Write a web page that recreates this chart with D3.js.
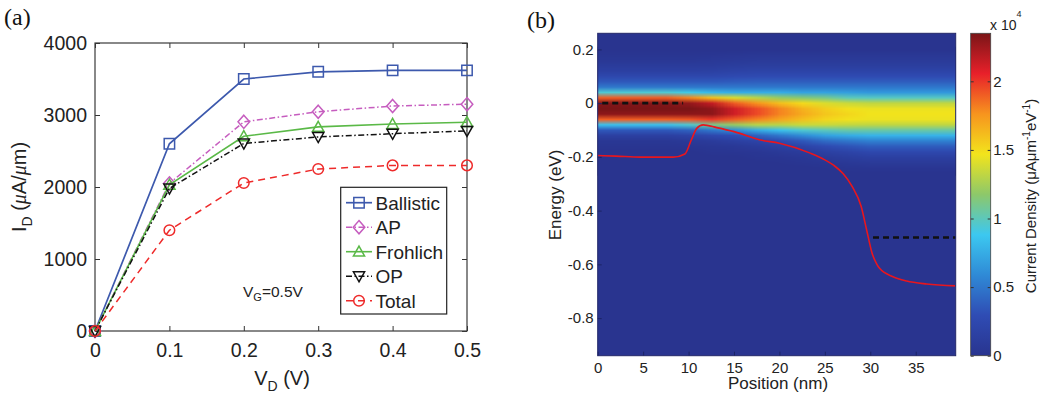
<!DOCTYPE html>
<html>
<head>
<meta charset="utf-8">
<script src="https://cdnjs.cloudflare.com/ajax/libs/d3/7.8.5/d3.min.js"></script>
<style>
  body { margin: 0; background: #fff; }
  svg { display: block; font-family: "Liberation Sans", Arial, sans-serif; }
</style>
</head>
<body>
<svg id="fig" width="1049" height="399"></svg>
<script>
// ---- panel (a): drain current vs drain voltage
const vd = [0, 0.1, 0.2, 0.3, 0.4, 0.5];
const ballistic = [0, 2600, 3500, 3600, 3620, 3620];
const ap = [0, 2050, 2905, 3045, 3125, 3150];
const frohlich = [0, 2030, 2705, 2835, 2875, 2900];
const op = [0, 1980, 2605, 2695, 2740, 2780];
const total = [0, 1400, 2055, 2250, 2300, 2300];
const vdTicks = [0, 0.1, 0.2, 0.3, 0.4, 0.5];
const idTicks = [0, 1000, 2000, 3000, 4000];

// ---- panel (b): energy resolved current density
const position = [0, 2.5, 5, 7.5, 10, 12.5, 15, 17.5, 20, 22.5, 25, 27.5, 30, 32.5, 35, 37.5, 40];
const energy = [0.20, 0.18, 0.16, 0.14, 0.12, 0.10, 0.08, 0.06, 0.04, 0.02, 0.00, -0.02,
                -0.04, -0.06, -0.08, -0.10, -0.12, -0.14, -0.16, -0.18, -0.20, -0.22, -0.24, -0.26];
// current density in units of 1e4, one row per energy, one column per position
const density = [
  [0,0,0,0,0,0,0,0,0,0,0,0,0,0,0,0,0],
  [.02,.02,.02,.02,.02,.03,.04,.05,.05,.05,.05,.05,.05,.05,.05,.05,.05],
  [.05,.05,.05,.05,.05,.06,.07,.08,.08,.08,.08,.08,.08,.08,.08,.08,.08],
  [.10,.10,.10,.10,.10,.10,.12,.13,.13,.13,.13,.13,.13,.13,.13,.13,.13],
  [.15,.15,.15,.15,.15,.16,.18,.20,.20,.20,.20,.20,.20,.20,.20,.20,.20],
  [.25,.25,.25,.25,.25,.25,.27,.28,.28,.28,.28,.28,.28,.28,.28,.28,.28],
  [.35,.35,.35,.35,.35,.35,.37,.38,.38,.38,.38,.38,.38,.38,.38,.38,.38],
  [.50,.50,.50,.50,.50,.50,.50,.50,.50,.50,.50,.50,.50,.50,.50,.50,.50],
  [.95,.95,.95,.95,.90,.80,.75,.75,.75,.70,.70,.68,.65,.65,.65,.65,.65],
  [1.9,1.9,1.9,1.9,1.8,1.6,1.4,1.3,1.2,1.15,1.1,1.0,.98,.98,.98,.98,.98],
  [2.32,2.32,2.32,2.32,2.28,2.15,1.9,1.75,1.6,1.5,1.4,1.35,1.32,1.32,1.32,1.32,1.32],
  [2.35,2.35,2.35,2.35,2.35,2.3,2.12,1.95,1.8,1.65,1.55,1.48,1.45,1.45,1.45,1.45,1.45],
  [2.3,2.3,2.3,2.3,2.3,2.3,2.12,1.95,1.8,1.68,1.58,1.52,1.47,1.47,1.47,1.47,1.47],
  [1.9,1.9,1.9,1.9,1.92,2.0,1.9,1.8,1.7,1.6,1.52,1.48,1.45,1.45,1.45,1.45,1.45],
  [.85,.85,.85,.85,.95,1.1,1.2,1.3,1.3,1.35,1.35,1.33,1.32,1.32,1.32,1.32,1.32],
  [.35,.35,.35,.35,.40,.50,.60,.75,.85,.95,1.0,1.05,1.05,1.05,1.05,1.05,1.05],
  [.15,.15,.15,.15,.18,.25,.30,.40,.50,.60,.70,.75,.78,.78,.78,.78,.78],
  [.05,.05,.05,.05,.07,.10,.15,.20,.28,.35,.45,.50,.55,.55,.55,.55,.55],
  [.02,.02,.02,.02,.03,.05,.06,.10,.15,.20,.28,.33,.38,.38,.38,.38,.38],
  [0,0,0,0,0,.02,.03,.04,.07,.10,.16,.20,.25,.25,.25,.25,.25],
  [0,0,0,0,0,0,0,.02,.03,.05,.08,.12,.15,.15,.15,.15,.15],
  [0,0,0,0,0,0,0,0,.01,.02,.04,.06,.08,.08,.08,.08,.08],
  [0,0,0,0,0,0,0,0,0,0,.01,.02,.03,.03,.03,.03,.03],
  [0,0,0,0,0,0,0,0,0,0,0,0,0,0,0,0,0]
];
const bandPos = [0, 2, 4.7, 8.3, 9.6, 10.3, 10.9, 11.6, 13.1, 15, 17.9, 20, 23.4, 25, 26,
                 27, 28, 29, 29.6, 30.2, 30.7, 31, 32.5, 34, 36.2, 39.4];
const bandEnergy = [-0.195, -0.197, -0.201, -0.201, -0.189, -0.137, -0.094, -0.081, -0.091, -0.106,
                    -0.137, -0.149, -0.186, -0.211, -0.232, -0.262, -0.31, -0.385, -0.472, -0.559,
                    -0.598, -0.614, -0.646, -0.662, -0.673, -0.68];
const fermiStart = [0.5, 30.3];
const fermiEnd = [9.4, 39.4];
const fermiLevel = [0, -0.5];
const posTicks = [0, 5, 10, 15, 20, 25, 30, 35];
const energyTicks = [0.2, 0, -0.2, -0.4, -0.6, -0.8];
const cbarTicks = [0, 0.5, 1, 1.5, 2];
const cbarMax = 2.35;

const svg = d3.select("#fig");

function styleAxis(g, size) {
  g.attr("font-family", null).attr("font-size", size);
  g.select(".domain").remove();
  g.selectAll(".tick line").attr("stroke", "#333");
  g.selectAll(".tick text").attr("fill", "#222");
}

// =================== panel (a)
const xA = d3.scaleLinear().domain([0, 0.5]).range([95, 467]);
const yA = d3.scaleLinear().domain([0, 4000]).range([331, 43]);
const gA = svg.append("g");

gA.append("g").attr("transform", "translate(0,331)")
  .call(d3.axisBottom(xA).tickValues(vdTicks)
    .tickFormat(d => d === 0 ? "0" : d3.format(".1f")(d))
    .tickSizeInner(-5).tickSizeOuter(0).tickPadding(12))
  .call(g => styleAxis(g, 19.5));
gA.append("g").attr("transform", "translate(95,0)")
  .call(d3.axisLeft(yA).tickValues(idTicks).tickFormat(String)
    .tickSizeInner(-5).tickSizeOuter(0).tickPadding(8))
  .call(g => styleAxis(g, 19.5));
gA.append("g").attr("transform", "translate(0,43)")
  .call(d3.axisTop(xA).tickValues(vdTicks).tickFormat("").tickSizeInner(-5).tickSizeOuter(0))
  .call(g => styleAxis(g, 10));
gA.append("g").attr("transform", "translate(467,0)")
  .call(d3.axisRight(yA).tickValues(idTicks).tickFormat("").tickSizeInner(-5).tickSizeOuter(0))
  .call(g => styleAxis(g, 10));

gA.append("rect")
  .attr("x", xA(0)).attr("y", yA(4000))
  .attr("width", xA(0.5) - xA(0)).attr("height", yA(0) - yA(4000))
  .attr("fill", "none").attr("stroke", "#3a3a3a").attr("stroke-width", 1.2);

const markers = {
  square: "M-5.2,-5.2H5.2V5.2H-5.2Z",
  diamond: "M0,-6.6L5.8,0L0,6.6L-5.8,0Z",
  triUp: "M0,-5.6L5.6,4.4H-5.6Z",
  triDown: "M0,5.6L5.6,-4.4H-5.6Z",
  circle: "M5.3,0A5.3,5.3 0 1,1 -5.3,0A5.3,5.3 0 1,1 5.3,0Z"
};

const series = [
  {name: "Ballistic", values: ballistic, color: "#3d59ad", dash: null, marker: "square", width: 1.7},
  {name: "AP", values: ap, color: "#c65dbf", dash: "6,2.5,1.5,2.5", marker: "diamond", width: 1.5},
  {name: "Frohlich", values: frohlich, color: "#5ab947", dash: null, marker: "triUp", width: 1.6},
  {name: "OP", values: op, color: "#111111", dash: "6,2.5,1.5,2.5", marker: "triDown", width: 1.5},
  {name: "Total", values: total, color: "#ee2a2a", dash: "7,5", marker: "circle", width: 1.5}
];

const lineA = d3.line().x((d, i) => xA(vd[i])).y(d => yA(d));

series.forEach(s => {
  gA.append("path").datum(s.values)
    .attr("d", lineA).attr("fill", "none")
    .attr("stroke", s.color).attr("stroke-width", s.width)
    .attr("stroke-dasharray", s.dash);
  gA.selectAll(null).data(s.values).enter().append("path")
    .attr("transform", (d, i) => `translate(${xA(vd[i])},${yA(d)})`)
    .attr("d", markers[s.marker])
    .attr("fill", "none").attr("stroke", s.color).attr("stroke-width", 1.5);
});

// legend
const leg = gA.append("g");
leg.append("rect").attr("x", 340.7).attr("y", 187.3).attr("width", 106).attr("height", 126.7)
  .attr("fill", "#fff").attr("stroke", "#222").attr("stroke-width", 1.2);
series.forEach((s, i) => {
  const y = 202.7 + i * 24.5;
  leg.append("line").attr("x1", 346).attr("x2", 372).attr("y1", y).attr("y2", y)
    .attr("stroke", s.color).attr("stroke-width", s.width).attr("stroke-dasharray", s.dash);
  leg.append("path").attr("transform", `translate(359,${y})`).attr("d", markers[s.marker])
    .attr("fill", "none").attr("stroke", s.color).attr("stroke-width", 1.5);
  leg.append("text").attr("x", 375.5).attr("y", y).attr("dy", "0.36em")
    .attr("font-size", 19).attr("fill", "#222").text(s.name);
});

// annotation
const vg = gA.append("text").attr("x", 243).attr("y", 297).attr("font-size", 15.5).attr("fill", "#222");
vg.append("tspan").text("V");
vg.append("tspan").attr("dy", 4).attr("font-size", 11).text("G");
vg.append("tspan").attr("dy", -4).text("=0.5V");

// axis titles
const xt = gA.append("text").attr("x", 282).attr("y", 385).attr("text-anchor", "middle")
  .attr("font-size", 20).attr("fill", "#222");
xt.append("tspan").text("V");
xt.append("tspan").attr("dy", 6).attr("font-size", 14).text("D");
xt.append("tspan").attr("dy", -6).text(" (V)");

const yt = gA.append("text").attr("transform", "translate(26,187) rotate(-90)")
  .attr("text-anchor", "middle").attr("font-size", 20).attr("fill", "#222");
yt.append("tspan").text("I");
yt.append("tspan").attr("dy", 6).attr("font-size", 14).text("D");
yt.append("tspan").attr("dy", -6).text(" (");
yt.append("tspan").attr("font-family", "'Liberation Serif', serif").attr("font-style", "italic").text("μ");
yt.append("tspan").text("A/");
yt.append("tspan").attr("font-family", "'Liberation Serif', serif").attr("font-style", "italic").text("μ");
yt.append("tspan").text("m)");

svg.append("text").attr("x", 4).attr("y", 25).attr("font-family", "'Liberation Serif', serif")
  .attr("font-size", 24).attr("fill", "#111").text("(a)");

// =================== panel (b)
const xB = d3.scaleLinear().domain([0, 39.4]).range([597.7, 955.7]);
const yB = d3.scaleLinear().domain([-0.94, 0.26]).range([355.7, 33.3]);
const colour = d3.scaleLinear()
  .domain([0, 0.125, 0.25, 0.375, 0.5, 0.625, 0.75, 0.875, 1].map(t => t * cbarMax))
  .range(["#29348f", "#2f4cb4", "#2f8ad6", "#3cc8f0", "#8dc86a", "#f2e41c", "#f7941e", "#e8202a", "#7a1517"])
  .clamp(true);

const gB = svg.append("g");
gB.append("clipPath").attr("id", "clipB").append("rect")
  .attr("x", xB(0)).attr("y", yB(0.26)).attr("width", xB(39.4) - xB(0)).attr("height", yB(-0.94) - yB(0.26));

gB.append("rect")
  .attr("x", xB(0)).attr("y", yB(0.26)).attr("width", xB(39.4) - xB(0)).attr("height", yB(-0.94) - yB(0.26))
  .attr("fill", colour(0));

// density grid -> small bitmap, stretched and smoothed by the browser
const nx = position.length, ny = energy.length;
const canvas = document.createElement("canvas");
canvas.width = nx; canvas.height = ny;
const ctx = canvas.getContext("2d");
const img = ctx.createImageData(nx, ny);
density.forEach((row, j) => row.forEach((v, i) => {
  const c = d3.rgb(colour(v));
  const k = (j * nx + i) * 4;
  img.data[k] = c.r; img.data[k + 1] = c.g; img.data[k + 2] = c.b; img.data[k + 3] = 255;
}));
ctx.putImageData(img, 0, 0);
const dx = (position[1] - position[0]) / 2, de = (energy[0] - energy[1]) / 2;
gB.append("image")
  .attr("href", canvas.toDataURL())
  .attr("x", xB(position[0] - dx)).attr("width", xB(position[nx - 1] + dx) - xB(position[0] - dx))
  .attr("y", yB(energy[0] + de)).attr("height", yB(energy[ny - 1] - de) - yB(energy[0] + de))
  .attr("preserveAspectRatio", "none")
  .attr("clip-path", "url(#clipB)");

// band edge
gB.append("path").datum(bandEnergy)
  .attr("d", d3.line().x((d, i) => xB(bandPos[i])).y(d => yB(d)).curve(d3.curveMonotoneX))
  .attr("fill", "none").attr("stroke", "#e8161e").attr("stroke-width", 1.6)
  .attr("clip-path", "url(#clipB)");

// fermi levels
gB.selectAll(null).data(fermiLevel).enter().append("line")
  .attr("x1", (d, i) => xB(fermiStart[i])).attr("x2", (d, i) => xB(fermiEnd[i]))
  .attr("y1", d => yB(d)).attr("y2", d => yB(d))
  .attr("stroke", "#111").attr("stroke-width", 2.6).attr("stroke-dasharray", "6,4");

gB.append("g").attr("transform", `translate(0,${yB(-0.94)})`)
  .call(d3.axisBottom(xB).tickValues(posTicks).tickFormat(String)
    .tickSizeInner(-4).tickSizeOuter(0).tickPadding(6.5))
  .call(g => styleAxis(g, 15));
gB.append("g").attr("transform", `translate(${xB(0)},0)`)
  .call(d3.axisLeft(yB).tickValues(energyTicks).tickFormat(String)
    .tickSizeInner(-4).tickSizeOuter(0).tickPadding(4))
  .call(g => styleAxis(g, 15));
gB.selectAll(".tick line").attr("stroke", "#1c2466");

gB.append("rect")
  .attr("x", xB(0)).attr("y", yB(0.26)).attr("width", xB(39.4) - xB(0)).attr("height", yB(-0.94) - yB(0.26))
  .attr("fill", "none").attr("stroke", "#23286a").attr("stroke-width", 1);

gB.append("text").attr("x", 778).attr("y", 389).attr("text-anchor", "middle")
  .attr("font-size", 17).attr("fill", "#222").text("Position (nm)");
gB.append("text").attr("transform", "translate(561,195) rotate(-90)").attr("text-anchor", "middle")
  .attr("font-size", 17).attr("fill", "#222").text("Energy (eV)");

svg.append("text").attr("x", 527).attr("y", 28).attr("font-family", "'Liberation Serif', serif")
  .attr("font-size", 24).attr("fill", "#111").text("(b)");

// colorbar
const yC = d3.scaleLinear().domain([0, cbarMax]).range([355.7, 33.3]);
const grad = svg.append("defs").append("linearGradient").attr("id", "jet")
  .attr("x1", 0).attr("x2", 0).attr("y1", 1).attr("y2", 0);
grad.selectAll("stop").data(colour.domain()).enter().append("stop")
  .attr("offset", d => d / cbarMax).attr("stop-color", d => colour(d));

const gC = svg.append("g");
gC.append("rect").attr("x", 970.7).attr("y", yC(cbarMax)).attr("width", 20).attr("height", yC(0) - yC(cbarMax))
  .attr("fill", "url(#jet)");
gC.append("g").attr("transform", "translate(990.7,0)")
  .call(d3.axisRight(yC).tickValues(cbarTicks).tickFormat(String)
    .tickSizeInner(-3).tickSizeOuter(0).tickPadding(2.5))
  .call(g => styleAxis(g, 15));
gC.append("g").attr("transform", "translate(970.7,0)")
  .call(d3.axisLeft(yC).tickValues(cbarTicks).tickFormat("").tickSizeInner(-3).tickSizeOuter(0))
  .call(g => styleAxis(g, 10));
gC.append("rect").attr("x", 970.7).attr("y", yC(cbarMax)).attr("width", 20).attr("height", yC(0) - yC(cbarMax))
  .attr("fill", "none").attr("stroke", "#444").attr("stroke-width", 0.8);

const mag = gC.append("text").attr("x", 990).attr("y", 30).attr("font-size", 14).attr("fill", "#222");
mag.append("tspan").text("x 10");
mag.append("tspan").attr("dy", -13).attr("font-size", 9).text("4");

const cl = gC.append("text").attr("transform", "translate(1036,196) rotate(-90)")
  .attr("text-anchor", "middle").attr("font-size", 15).attr("fill", "#222");
cl.append("tspan").text("Current Density (μAμm");
cl.append("tspan").attr("dy", -6).attr("font-size", 10).text("-1");
cl.append("tspan").attr("dy", 6).text("eV");
cl.append("tspan").attr("dy", -6).attr("font-size", 10).text("-1");
cl.append("tspan").attr("dy", 6).text(")");
</script>
</body>
</html>
